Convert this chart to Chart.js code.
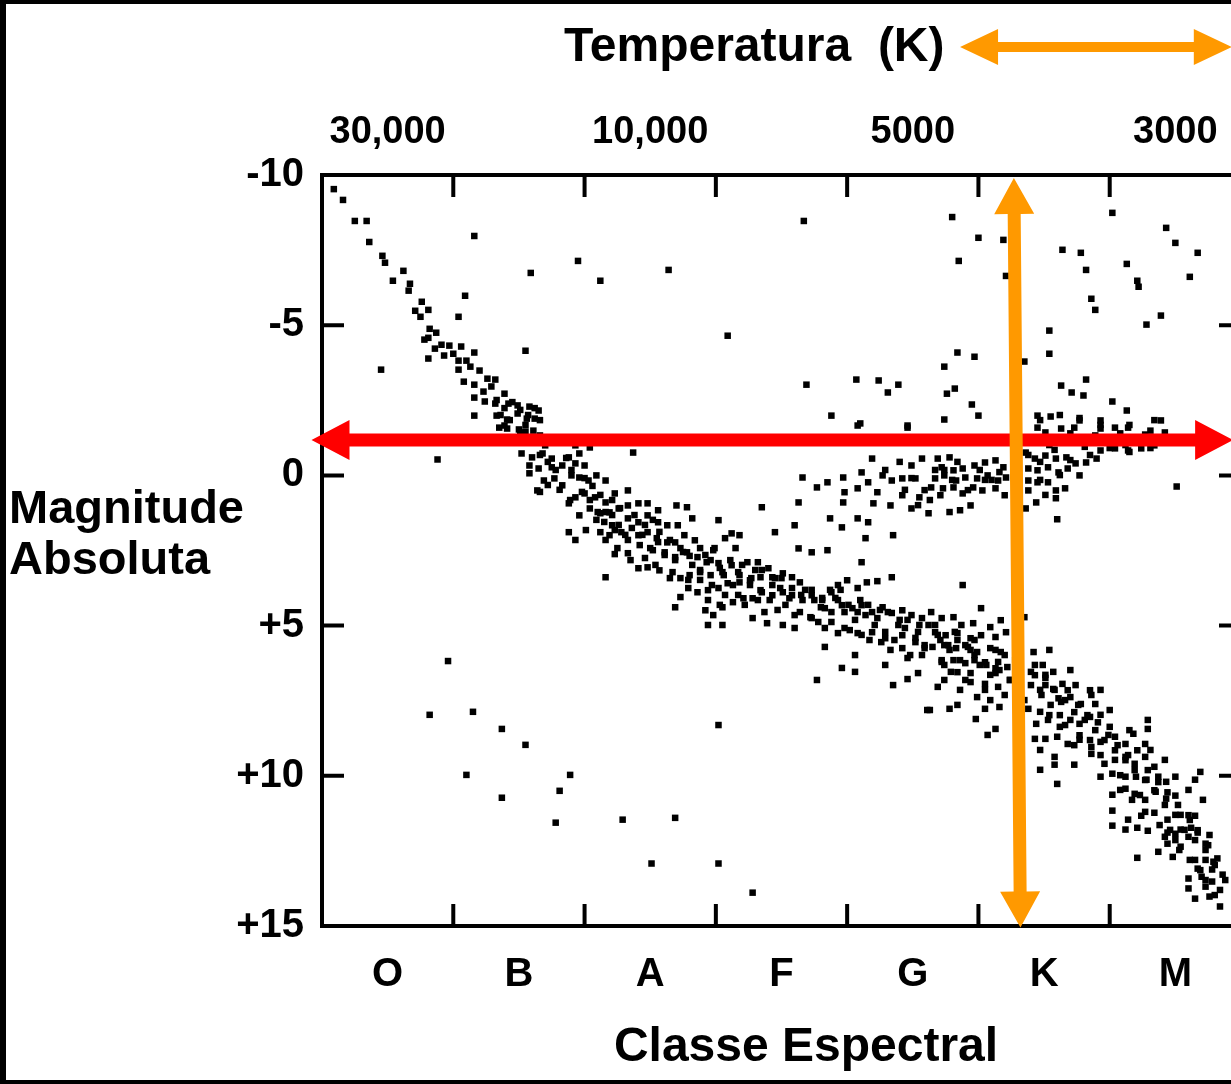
<!DOCTYPE html>
<html>
<head>
<meta charset="utf-8">
<script src="https://cdn.jsdelivr.net/npm/chart.js@4/dist/chart.umd.min.js"></script>
<style>
html, body { margin: 0; padding: 0; background: #000; overflow: hidden; }
canvas { display: block; }
</style>
</head>
<body>
<canvas id="hr" width="1260" height="1084"></canvas>
<script>
// eixos
const spectralClasses = ['O', 'B', 'A', 'F', 'G', 'K', 'M'];
const temperatureLabels = ['30,000', '10,000', '5000', '3000'];
const temperaturePositions = [0.5, 2.5, 4.5, 6.5];
const magnitudeTicks = [-10, -5, 0, 5, 10, 15];
const classTickMarks = [1, 2, 3, 4, 5, 6];
const magnitudeTickMarks = [-5, 0, 5, 10];

// estrelas: [classe espectral (0 = O ... 7), magnitude absoluta]
const mainSequence = [
  [0.09,-9.53],[0.16,-9.17],[0.25,-8.47],[0.34,-8.47],[0.36,-7.77],[0.46,-7.31],[0.48,-7.08],[0.62,-6.81],[0.54,-6.48],[0.67,-6.38],
  [0.66,-6.15],[0.76,-5.78],[0.81,-5.51],[0.71,-5.48],[0.75,-5.28],[0.82,-4.88],[0.87,-4.75],[0.78,-4.52],[0.81,-4.58],[0.86,-4.22],
  [0.91,-4.35],[0.97,-4.32],[0.81,-3.89],[0.93,-3.99],[1.0,-4.05],[1.06,-4.29],[1.16,-4.09],[1.04,-3.82],[1.10,-3.82],[1.04,-3.52],
  [1.13,-3.62],[1.20,-3.49],[1.08,-3.12],[1.16,-3.02],[1.26,-3.22],[1.32,-3.19],[1.23,-2.79],[1.29,-2.96],[1.39,-2.72],[1.16,-2.59],
  [1.24,-2.46],[1.32,-2.39],[1.42,-2.39],[1.49,-2.33],[1.58,-2.29],[1.65,-2.16],[1.16,-1.99],[1.33,-1.99],[1.41,-1.86],[1.49,-2.06],
  [1.56,-1.89],[1.62,-1.89],[1.39,-1.66],[1.51,-1.43],[1.66,-1.33],[1.81,-1.23],[1.96,-1.26],[1.70,-1.00],[2.04,-0.93],[1.93,-1.00],
  [1.33,-2.51],[1.39,-2.24],[1.45,-2.44],[1.51,-2.18],[1.57,-2.01],[1.62,-2.24],[1.66,-1.84],[1.43,-1.84],[1.55,-1.68],[1.36,-2.01],
  [1.35,-1.59],[1.41,-1.56],[1.50,-1.53],[1.55,-1.46],[1.61,-1.49],[1.52,-0.73],[1.60,-0.60],[1.68,-0.73],[1.75,-0.56],[1.88,-0.60],
  [1.96,-0.73],[1.58,-0.33],[1.65,-0.23],[1.75,-0.27],[1.83,-0.33],[1.93,-0.40],[2.00,-0.33],[1.69,0.17],[1.77,0.10],[1.83,0.33],
  [1.90,0.0],[1.96,0.07],[2.03,0.17],[2.09,0.0],[2.16,0.17],[1.93,0.73],[2.00,0.60],[2.08,0.73],[2.16,0.90],[2.23,0.60],
  [1.88,0.93],[1.96,1.33],[2.04,1.10],[2.12,1.26],[2.19,1.23],[2.26,1.10],[2.12,1.89],[2.21,1.66],[2.28,1.89],[2.19,1.99],
  [1.58,-0.07],[1.64,0.50],[1.88,1.89],[2.23,2.62],[2.16,3.39],
  [1.66,-0.68],[1.72,-0.45],[1.78,-0.18],[1.86,-0.58],[1.90,-0.18],[2.00,0.09],[2.06,0.35],[2.12,0.65],[2.21,0.82],[2.27,1.09],
  [2.16,1.22],[2.09,1.48],[2.01,1.82],[1.93,2.15],[2.23,1.82],[2.33,2.15],[2.42,2.32],[2.35,2.82],[1.89,0.82],[1.81,0.48],
  [1.72,0.32],[1.66,0.55],[2.52,1.48],[2.57,1.88],[2.46,1.65],[2.38,1.32],
  [1.98,0.55],[2.04,0.82],[2.10,1.22],[2.15,1.55],[2.21,1.32],[2.26,1.65],[2.31,1.98],[2.36,1.75],[2.44,1.98],[2.50,2.42],
  [2.56,2.22],[2.61,2.65],[2.69,2.82],[2.75,2.55],[2.82,2.98],[2.88,3.48],[2.79,3.48],[2.67,3.22],[2.54,2.98],[2.46,2.75],
  [2.25,2.42],[2.16,2.15],
  [2.33,0.50],[2.33,1.00],[2.41,0.93],[2.48,0.93],[2.33,1.43],[2.41,1.56],[2.48,1.33],[2.56,1.16],[2.56,1.56],[2.63,1.66],
  [2.71,1.66],[2.78,1.06],[2.70,1.00],[2.82,1.43],[2.33,2.59],[2.41,1.99],[2.48,1.89],[2.55,2.09],[2.63,2.23],[2.69,2.23],
  [2.76,1.99],[2.84,2.16],[2.41,3.09],[2.48,3.06],[2.57,3.16],[2.52,2.49],[2.61,2.56],[2.69,2.72],[2.78,2.56],[2.86,2.72],
  [2.93,2.89],[2.98,2.49],[3.02,2.92],[2.65,3.42],[2.73,3.42],[2.80,3.32],[2.88,3.22],[2.96,3.32],[3.05,3.22],[3.12,2.99],
  [3.17,3.22],[3.24,2.89],[3.32,2.89],[3.40,3.09],[2.79,3.75],[2.86,3.89],[2.94,3.82],[3.02,3.75],[3.09,3.59],[3.18,3.56],
  [3.26,3.49],[3.34,3.39],[3.43,3.39],[3.51,3.26],[3.58,3.39],[3.64,3.56],[2.73,4.05],[2.92,4.49],[2.98,4.65],[3.05,4.39],
  [3.13,4.22],[3.21,4.09],[3.28,4.09],[3.35,3.89],[3.43,3.99],[3.51,3.89],[3.58,3.99],[3.66,4.15],[3.73,3.99],[3.81,4.15],
  [3.88,3.89],[3.93,3.65],[4.00,3.49],[4.08,3.75],[4.15,3.56],[4.23,3.52],[2.94,4.98],[3.05,4.98],[3.28,4.75],[3.39,4.92],
  [3.51,4.98],[3.60,5.08],[3.72,4.72],[3.80,4.39],[3.88,4.55],[3.96,4.32],[4.04,4.42],[4.11,4.32],[4.19,4.55],[4.27,4.39],
  [4.34,4.58],[4.42,4.49],[4.49,4.65],[4.57,4.75],[3.83,5.08],[3.93,5.25],[4.08,5.25],[4.19,5.22],[4.29,5.42],[4.42,5.32],
  [4.52,5.55],[4.59,5.75],[3.83,5.71],[4.06,5.98],[3.96,6.41],[4.06,6.54],[4.29,6.31],[4.46,6.08],[4.54,6.58],[2.69,4.39],
  [3.63,2.43],[3.73,2.56],[3.85,2.49],[4.11,2.89],[4.34,3.39],[3.77,6.81],[4.35,6.98],[4.46,6.78],[4.61,7.81],
  [2.65,2.15],[2.73,2.42],[2.80,2.68],[2.88,2.42],[2.96,2.82],[3.03,3.08],[3.11,2.82],[3.18,3.32],[3.26,3.65],[3.34,3.82],
  [3.41,4.15],[3.49,3.75],[3.56,4.09],[2.88,3.15],[2.97,3.65],[3.07,3.98],[3.22,4.31],[3.37,4.55],[3.53,4.31],[3.60,4.65],
  [3.15,2.42],[3.30,3.15],[3.45,3.42],
  [2.92,2.65],[2.99,2.42],[3.06,3.32],[3.13,3.65],[3.20,2.98],[3.27,3.42],[3.35,3.15],[3.43,3.65],[3.50,3.42],[3.58,3.75],
  [3.65,3.98],[3.73,3.81],[3.81,4.08],[3.87,3.81],[2.94,4.15],[3.03,4.31],[3.17,3.98],[3.32,4.15],[3.47,4.48],[3.64,4.55],
  [3.78,4.88],
  [3.68,3.81],[3.75,4.15],[3.83,4.42],[3.91,4.08],[3.98,4.55],[4.06,4.81],[4.14,4.65],[4.21,4.98],[4.29,5.21],[4.36,5.48],
  [4.44,5.08],[4.52,5.41],[4.59,5.65],[3.73,4.75],[3.88,4.88],[4.02,5.15],[4.17,5.48],[4.33,5.81],[4.48,5.98],[3.95,3.81],
  [4.10,4.15],[4.25,4.48],[4.40,4.81],[4.55,4.98],
  [3.93,4.15],[4.01,4.31],[4.08,4.55],[4.16,4.31],[4.23,4.75],[4.31,4.55],[4.39,4.98],[4.46,4.81],[4.54,5.21],[4.62,4.98],
  [4.69,5.31],[4.77,5.65],[4.84,5.48],[3.98,5.08],[4.11,5.31],[4.26,5.55],[4.42,5.75],[4.57,5.98],[4.72,6.15],[4.84,6.55],
  [4.88,3.65],[5.02,4.42],[4.64,4.55],[4.72,4.75],[4.81,4.72],[4.87,4.98],[4.96,4.92],[5.09,5.05],[5.17,4.82],[4.67,5.22],
  [4.75,5.32],[4.84,5.25],[4.94,5.42],[5.02,5.32],[5.13,5.38],[5.21,5.22],[4.65,5.71],[4.74,5.65],[4.83,5.75],[4.92,5.71],
  [4.99,5.88],[5.09,5.75],[5.17,5.88],[4.72,6.21],[4.81,6.15],[4.90,6.25],[4.97,6.15],[5.06,6.31],[5.15,6.21],[5.22,6.38],
  [4.79,6.54],[4.94,6.58],[5.13,6.58],[5.35,4.72],[5.42,5.88],[5.49,6.31],[5.57,6.54],[5.40,6.54],
  [4.71,5.48],[4.78,5.81],[4.86,6.15],[4.94,5.81],[5.01,6.31],[5.09,6.64],[5.16,6.48],[5.24,6.81],[5.32,7.15],[4.74,6.31],
  [4.90,6.81],[5.05,7.14],[5.20,7.31],[5.35,7.48],[4.67,4.98],[4.82,5.21],[4.97,5.48],[5.13,5.81],[5.28,6.15],
  [4.90,5.65],[4.97,5.98],[5.05,6.22],[5.13,6.42],[5.20,5.98],[5.43,6.65],[5.51,6.98],[5.61,7.42],[5.68,7.15],[5.76,7.64],
  [5.83,7.98],[5.91,8.22],[5.54,7.98],[5.66,8.31],[5.73,8.98],[5.85,8.81],
  [4.74,6.81],[5.24,6.81],[5.51,6.74],[5.74,6.98],[5.93,7.14],
  [4.69,7.04],[4.86,7.14],[4.94,6.88],[5.05,6.94],[5.15,7.04],[4.63,7.81],[4.78,7.77],[4.84,7.64],[4.99,7.38],[5.09,7.48],
  [5.16,7.71],[5.05,7.77],[4.98,8.11],[5.13,8.44],[5.07,8.64],[5.40,6.98],[5.48,7.31],[5.57,7.11],[5.64,6.94],[5.38,7.77],
  [5.47,7.87],[5.55,7.64],[5.63,7.54],[5.70,7.38],[5.78,7.61],[5.86,7.31],[5.89,7.61],[5.44,8.27],[5.53,8.14],[5.62,8.37],
  [5.70,8.14],[5.77,8.27],[5.85,8.04],[5.93,7.97],[6.00,8.37],[5.43,8.77],[5.51,8.77],[5.60,8.70],[5.68,8.94],[5.77,8.80],
  [5.86,9.04],[5.93,8.87],[6.04,8.70],[6.12,8.94],[6.18,8.60],[6.27,8.94],[5.47,9.14],[5.58,9.37],[5.73,9.63],[5.86,9.27],
  [5.58,9.63],[5.47,9.80],[5.60,10.27],[6.29,8.14],[6.29,8.44],[6.42,9.47],[5.96,9.60],[6.04,9.47],[6.12,9.37],[6.19,9.60],
  [6.27,9.37],[6.34,9.70],[5.93,10.03],[6.02,9.93],[6.12,10.03],[6.20,10.03],[6.28,10.13],[6.37,10.03],[6.43,10.20],[6.50,10.03],
  [6.02,10.63],[6.12,10.43],[6.19,10.60],[6.27,10.80],[6.35,10.53],[6.43,10.76],[6.50,10.66],[6.60,10.47],[6.69,9.87],[6.65,10.13],
  [6.71,10.80],[6.02,11.16],[6.14,11.46],[6.24,11.33],[6.34,11.23],[6.44,11.46],[6.54,11.30],[6.65,11.33],[6.02,11.66],[6.12,11.79],
  [6.21,11.73],[6.29,11.83],[6.44,11.89],[6.54,11.79],[6.62,11.73],[6.67,11.89],[6.42,12.03],[6.50,11.93],[6.60,12.03],[6.73,12.26],
  [6.44,12.26],[6.54,12.36],[6.37,12.53],[6.21,12.73],[6.48,12.70],[6.65,12.80],[6.73,12.80],[6.79,12.86],[6.67,13.09],[6.78,13.12],
  [6.70,13.36],[6.60,13.42],[6.86,13.29],[6.78,13.52],[6.60,13.75],[6.73,13.69],[6.65,14.09],[6.76,14.02],[6.84,14.35],
  [5.43,6.31],[5.51,6.64],[5.58,7.14],[5.66,7.48],[5.73,7.88],[5.81,8.14],[5.89,8.48],[5.96,8.81],[6.04,9.15],[6.12,9.48],
  [6.19,9.81],[6.27,10.14],[6.34,10.48],[5.47,7.14],[5.62,7.98],[5.77,8.65],[5.93,9.31],[6.08,9.98],[6.23,10.64],[5.54,5.81],
  [5.70,6.48],[5.85,7.15],[6.00,7.81],[6.15,8.48],[6.31,9.14],
  [5.99,8.64],[6.06,8.98],[6.14,9.31],[6.21,9.15],[6.29,9.81],[6.37,10.21],[6.44,10.55],[6.52,10.97],[6.60,11.31],[6.67,11.81],
  [6.75,12.31],[6.82,12.75],[6.08,10.47],[6.17,10.80],[6.27,11.20],[6.38,11.64],[6.50,12.14],[6.61,12.80],[6.73,13.47],[6.80,13.97],
  [6.42,10.97],[6.50,11.30],[6.57,11.80],[6.65,12.14],[6.73,12.47],[6.80,12.97],[6.53,12.47],[6.69,13.14],[6.84,13.80],[6.46,11.80],
  [6.61,11.47],[6.76,11.97],[6.88,13.47]
];

const giants = [
  [3.69,-3.02],[4.07,-3.19],[4.24,-3.16],[4.39,-3.02],[4.31,-2.76],[3.88,-1.99],[4.10,-1.73],[4.46,-1.66],
  [4.84,-4.09],[4.97,-3.95],[4.74,-3.62],[5.35,-3.79],[4.82,-2.89],[4.76,-2.72],[4.95,-2.36],[5.00,-1.99],[4.74,-1.86],
  [5.63,-2.99],[5.71,-2.76],[5.80,-2.66],[5.82,-3.19],[6.02,-2.46],[6.13,-2.16],[6.39,-1.83],[5.45,-1.99],[5.55,-1.96],
  [5.77,-1.83],[5.93,-1.83],[5.54,-4.05],
  [5.51,-1.43],[5.70,-1.40],[5.89,-1.33],[6.08,-1.40],[6.27,-1.36],[6.42,-1.43],[5.45,-1.59],[5.63,-1.56],[5.73,-1.59],
  [5.93,-1.56],[6.04,-1.59],[6.14,-1.59],[6.31,-1.49],
  [5.47,-1.84],[5.62,-2.01],[5.77,-1.91],[5.93,-1.68],[6.15,-1.68],[6.34,-1.84],
  [4.69,-0.56],[4.78,-0.60],[4.72,-0.27],[4.81,-0.17],[4.88,-0.23],[4.97,-0.33],[5.05,-0.43],[5.13,-0.50],[5.19,-0.27],
  [4.67,0.10],[4.74,0.0],[4.83,0.17],[4.90,0.07],[4.99,0.10],[5.07,0.0],[5.15,0.17],[5.21,0.07],[4.64,0.40],[4.73,0.43],
  [4.81,0.40],[4.88,0.60],[4.96,0.40],[5.03,0.50],[5.13,0.43],[5.20,0.66],[4.71,0.66],[4.86,1.16],[4.94,1.00],[4.62,1.26],
  [5.36,-0.76],[5.43,-0.56],[5.51,-0.66],[5.59,-0.56],[5.67,-0.60],[5.74,-0.40],[5.82,-0.43],[5.90,-0.56],[5.38,-0.23],
  [5.45,-0.17],[5.53,-0.27],[5.61,-0.10],[5.68,-0.23],[5.77,0.0],[5.38,0.17],[5.45,0.23],[5.53,0.23],[5.59,0.50],[5.66,0.43],
  [5.38,0.50],[5.44,0.90],[5.36,1.10],[5.59,0.76],[5.60,1.46],[5.93,-0.83],[6.04,-0.90],[6.14,-0.83],[6.24,-0.90],[6.34,-1.00],
  [6.51,0.37],
  [4.74,-0.18],[4.84,-0.45],[5.05,0.15],[5.16,-0.11],[5.43,-1.18],[5.54,-1.01],[5.66,-1.11],[5.81,-0.95],[5.96,-1.18],
  [6.12,-1.01],[6.27,-1.18],[5.47,0.15],[5.62,-0.01],[5.51,0.65],[4.63,0.82],[4.54,0.99],[4.78,1.22],[4.44,0.48],
  [4.67,-0.18],[4.80,0.15],[4.92,0.49],[5.01,-0.18],[5.10,0.15],[5.38,-0.68],[5.47,-0.45],[5.58,-0.85],[5.70,-0.51],
  [5.85,-0.68],[6.00,-0.91],[6.15,-0.78],[6.31,-0.91],[4.29,-0.18],[4.40,-0.45],[4.49,0.09],[4.59,0.49],
  [3.66,0.07],[3.63,0.90],[3.77,0.40],[3.85,0.23],[3.97,0.07],[3.97,0.90],[3.98,0.56],[4.19,-0.56],[4.11,-0.10],[4.16,0.23],
  [4.27,0.0],[4.34,0.17],[4.23,0.56],[4.20,0.93],[4.33,1.00],[4.42,0.10],[4.52,0.10],[4.57,-0.56],[4.49,-0.33],[4.42,0.66],
  [4.55,0.73],[4.49,1.10],[4.08,1.43],[4.16,1.56],[4.35,1.99],[4.14,2.09],[3.87,1.43],[3.96,1.73],[3.35,1.06],[3.45,1.89],
  [3.60,1.66],[3.12,1.93],[3.02,1.49],[3.07,2.09],[3.18,1.99],[4.08,0.43],[2.37,-0.76],[4.08,-1.66],[4.46,-1.59]
];

const supergiants = [
  [1.16,-7.97],[1.59,-6.74],[1.95,-7.14],[2.12,-6.48],[1.09,-5.98],[1.04,-5.28],[1.55,-4.15],[0.45,-3.52],[2.64,-6.84],
  [3.67,-8.47],[3.09,-4.65],[4.80,-8.60],[5.00,-7.91],[5.19,-7.84],[4.85,-7.14],[5.21,-6.64],[5.64,-7.51],[5.78,-7.41],
  [5.82,-6.84],[5.86,-5.88],[5.89,-5.51],[6.02,-8.74],[6.43,-8.24],[6.50,-7.74],[6.67,-7.41],[6.13,-7.04],[6.21,-6.48],
  [6.22,-6.28],[6.61,-6.61],[6.39,-5.32],[6.28,-5.02],[5.54,-4.82],[0.88,-0.53]
];

const whiteDwarfs = [
  [0.96,6.18],[0.82,7.97],[1.15,7.87],[1.37,8.44],[1.55,8.97],[1.10,9.97],[1.89,9.97],[1.81,10.50],[1.37,10.73],
  [1.78,11.56],[2.29,11.46],[3.02,8.31],[2.69,11.40],[2.51,12.92],[3.02,12.92],[3.28,13.89]
];

// setas de destaque (em unidades dos eixos)
const redArrowMagnitude = -1.18;
const orangeArrowClass = [5.27, 5.32];

const bold = "'Liberation Sans', Arial, sans-serif";

function toPoints(list) {
  return list.map(p => ({ x: p[0], y: p[1] }));
}

function arrow(ctx, x1, y1, x2, y2, w, hl, hw, color) {
  const a = Math.atan2(y2 - y1, x2 - x1);
  const len = Math.hypot(x2 - x1, y2 - y1);
  ctx.save();
  ctx.translate(x1, y1);
  ctx.rotate(a);
  ctx.fillStyle = color;
  ctx.beginPath();
  ctx.moveTo(0, 0);
  ctx.lineTo(hl, -hw);
  ctx.lineTo(hl, -w / 2);
  ctx.lineTo(len - hl, -w / 2);
  ctx.lineTo(len - hl, -hw);
  ctx.lineTo(len, 0);
  ctx.lineTo(len - hl, hw);
  ctx.lineTo(len - hl, w / 2);
  ctx.lineTo(hl, w / 2);
  ctx.lineTo(hl, hw);
  ctx.closePath();
  ctx.fill();
  ctx.restore();
}

const decor = {
  id: 'decor',
  beforeDraw(chart) {
    const ctx = chart.ctx;
    ctx.save();
    ctx.fillStyle = '#000';
    ctx.fillRect(0, 0, chart.width, chart.height);
    ctx.fillStyle = '#fff';
    ctx.fillRect(6, 4, chart.width - 6, 1076);
    ctx.restore();
  },
  afterDatasetsDraw(chart) {
    const ctx = chart.ctx, a = chart.chartArea;
    const xs = chart.scales.x, ys = chart.scales.y;
    ctx.save();
    ctx.strokeStyle = '#000';
    ctx.lineWidth = 4;
    ctx.strokeRect(a.left, a.top, a.right - a.left, a.bottom - a.top);
    ctx.beginPath();
    classTickMarks.forEach(v => {
      const px = xs.getPixelForValue(v);
      ctx.moveTo(px, a.top); ctx.lineTo(px, a.top + 22);
      ctx.moveTo(px, a.bottom); ctx.lineTo(px, a.bottom - 22);
    });
    magnitudeTickMarks.forEach(v => {
      const py = ys.getPixelForValue(v);
      ctx.moveTo(a.left, py); ctx.lineTo(a.left + 22, py);
      ctx.moveTo(a.right, py); ctx.lineTo(a.right - 22, py);
    });
    ctx.stroke();

    ctx.fillStyle = '#000';
    ctx.textBaseline = 'middle';
    ctx.textAlign = 'left';
    ctx.font = 'bold 48px ' + bold;
    ctx.fillText('Temperatura  (K)', 564, 48);
    ctx.font = 'bold 47px ' + bold;
    ctx.fillText('Magnitude', 9, 510);
    ctx.fillText('Absoluta', 9, 561);
    ctx.textAlign = 'center';
    ctx.font = 'bold 48px ' + bold;
    ctx.fillText('Classe Espectral', 806, 1048);
    ctx.restore();
  },
  afterDraw(chart) {
    const ctx = chart.ctx;
    const xs = chart.scales.x, ys = chart.scales.y;
    const yr = ys.getPixelForValue(redArrowMagnitude);
    arrow(ctx, xs.getPixelForValue(-0.08), yr, xs.getPixelForValue(6.94), yr, 13, 38, 20, '#ff0000');
    arrow(ctx, xs.getPixelForValue(orangeArrowClass[0]), ys.getPixelForValue(-9.9),
      xs.getPixelForValue(orangeArrowClass[1]), ys.getPixelForValue(15.05), 13, 36, 20, '#ff9900');
    arrow(ctx, xs.getPixelForValue(4.86), 47, xs.getPixelForValue(6.93), 47, 10, 38, 18, '#ff9900');
  }
};

const starStyle = { backgroundColor: '#000', borderWidth: 0, pointStyle: 'rect', pointRadius: 4.6, pointHoverRadius: 4.6 };

new Chart(document.getElementById('hr'), {
  type: 'scatter',
  data: {
    datasets: [
      Object.assign({ label: 'Sequência principal', data: toPoints(mainSequence) }, starStyle),
      Object.assign({ label: 'Gigantes', data: toPoints(giants) }, starStyle),
      Object.assign({ label: 'Supergigantes', data: toPoints(supergiants) }, starStyle),
      Object.assign({ label: 'Anãs brancas', data: toPoints(whiteDwarfs) }, starStyle)
    ]
  },
  options: {
    responsive: false,
    animation: false,
    events: [],
    layout: { padding: { left: 0, right: 19, top: 0, bottom: 0 } },
    plugins: { legend: { display: false }, tooltip: { enabled: false } },
    scales: {
      x: {
        type: 'linear', position: 'bottom', min: 0, max: 7,
        grid: { display: false, drawTicks: false }, border: { display: false },
        afterBuildTicks: s => { s.ticks = spectralClasses.map((c, i) => ({ value: i + 0.5 })); },
        afterFit: s => { s.height = 158; },
        ticks: {
          autoSkip: false, maxRotation: 0, padding: 25, color: '#000',
          font: { family: bold, size: 40, weight: 'bold' },
          callback: (v, i) => spectralClasses[i]
        }
      },
      xTop: {
        type: 'linear', position: 'top', min: 0, max: 7,
        grid: { display: false, drawTicks: false }, border: { display: false },
        afterBuildTicks: s => { s.ticks = temperaturePositions.map(v => ({ value: v })); },
        afterFit: s => { s.height = 175; },
        ticks: {
          autoSkip: false, maxRotation: 0, padding: 20, color: '#000',
          font: { family: bold, size: 38, weight: 'bold' },
          callback: (v, i) => temperatureLabels[i]
        }
      },
      y: {
        type: 'linear', min: -10, max: 15, reverse: true,
        grid: { display: false, drawTicks: false }, border: { display: false },
        afterBuildTicks: s => { s.ticks = magnitudeTicks.map(v => ({ value: v })); },
        afterFit: s => { s.width = 322; },
        ticks: {
          autoSkip: false, padding: 18, color: '#000',
          font: { family: bold, size: 40, weight: 'bold' },
          callback: v => (v > 0 ? '+' + v : String(v))
        }
      }
    }
  },
  plugins: [decor]
});
</script>
</body>
</html>
